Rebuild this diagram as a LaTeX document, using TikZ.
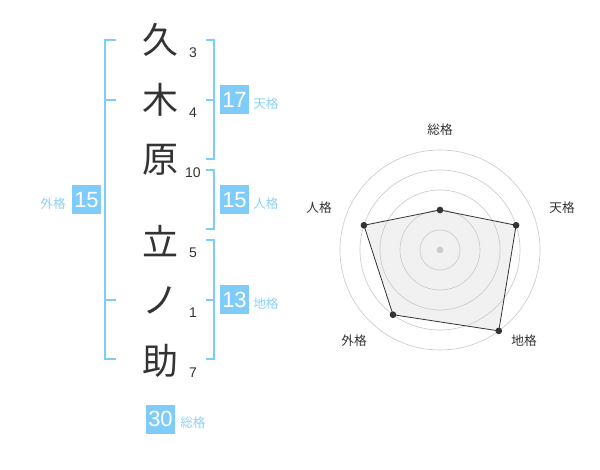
\documentclass[tikz,border=0pt]{standalone}
\usepackage{fontspec}
\usetikzlibrary{calc}
\setmainfont{Liberation Sans}
\newfontfamily\jpfont{Noto Sans CJK JP}
\definecolor{kakublue}{HTML}{80CCF8}
\definecolor{kakulabel}{HTML}{8DD0F5}
\definecolor{inkgray}{HTML}{333333}
\definecolor{ringgray}{HTML}{CCCCCC}
\definecolor{fillgray}{HTML}{F1F1F1}
\tikzset{
  kanji/.style={font=\jpfont\fontsize{27}{27}\selectfont,text=inkgray,inner sep=0pt},
  strokes/.style={font=\fontsize{10.5}{12}\selectfont,text=inkgray,inner sep=0pt},
  kakubox/.style={fill=kakublue,text=white,minimum size=21.75pt,inner sep=0pt,font=\fontsize{16.5}{16.5}\selectfont},
  kakuname/.style={font=\jpfont\fontsize{9.5}{9.5}\selectfont,text=kakulabel,inner sep=0pt},
  bracket/.style={draw=kakublue,line width=1.4pt},
  radarlabel/.style={font=\jpfont\fontsize{9.5}{9.5}\selectfont,text=inkgray,inner sep=0pt},
  ring/.style={draw=ringgray,line width=0.5pt},
  dot/.style={circle,fill=inkgray,inner sep=0pt,minimum size=5pt},
}

\begin{document}
\begin{tikzpicture}[x=0.75pt,y=-0.75pt]
                \useasboundingbox (0,0) rectangle (600,470);
                % name, one character per row
                \node[kanji] (c1) at (160,40)  {久};
                \node[kanji] (c2) at (160,100) {木};
                \node[kanji] (c3) at (160,160) {原};
                \node[kanji] (c4) at (160,241) {立};
                \node[kanji] (c5) at (160,300) {ノ};
                \node[kanji] (c6) at (160,361) {助};
                % stroke counts
                \node[strokes] (n1) at (193,53)  {3};
                \node[strokes] (n2) at (193,113) {4};
                \node[strokes] (n3) at (193,173) {10};
                \node[strokes] (n4) at (193,253) {5};
                \node[strokes] (n5) at (193,313) {1};
                \node[strokes] (n6) at (193,373) {7};
                % brackets
                \draw[bracket] (206,40)--(214.3,40)--(214.3,159.3)--(206,159.3);
                \draw[bracket] (206,100)--(214.3,100);
                \draw[bracket] (206,170)--(214.3,170)--(214.3,229.3)--(206,229.3);
                \draw[bracket] (206,240)--(214.3,240)--(214.3,359.3)--(206,359.3);
                \draw[bracket] (206,300)--(214.3,300);
                \draw[bracket] (116,40)--(105,40)--(105,359.3)--(116,359.3);
                \draw[bracket] (105,100)--(116,100);
                \draw[bracket] (105,300)--(116,300);
                % totals
                \node[kakubox] (ten) at (234.5,100) {17};
                \node[kakuname,anchor=west] (tenname) at (253,104) {天格};
                \node[kakubox] (jin) at (234.5,200) {15};
                \node[kakuname,anchor=west] (jinname) at (253,204) {人格};
                \node[kakubox] (chi) at (234.5,300) {13};
                \node[kakuname,anchor=west] (chiname) at (253,304) {地格};
                \node[kakubox] (gai) at (86.5,200) {15};
                \node[kakuname,anchor=east] (gainame) at (66,204) {外格};
                \node[kakubox] (sou) at (160.5,419) {30};
                \node[kakuname,anchor=west] (souname) at (180,423) {総格};
                % radar chart
                \coordinate (ctr) at (440,250);
                \coordinate (pSou) at ($(ctr)+(-90:40)$);
                \coordinate (pTen) at ($(ctr)+(-18:80)$);
                \coordinate (pChi) at ($(ctr)+(54:100)$);
                \coordinate (pGai) at ($(ctr)+(126:80)$);
                \coordinate (pJin) at ($(ctr)+(198:80)$);
                \fill[fillgray] (pSou)--(pTen)--(pChi)--(pGai)--(pJin)--cycle;
                \foreach \r in {20,40,...,100}
                    \draw[ring] (ctr) circle[radius=\r];
                \draw[inkgray,line width=0.6pt] (pSou)--(pTen)--(pChi)--(pGai)--(pJin)--cycle;
                \node[circle,fill=ringgray,inner sep=0pt,minimum size=5pt] (mid) at (ctr) {};
                \foreach \p in {pSou,pTen,pChi,pGai,pJin}
                    \node[dot] at (\p) {};
                \node[radarlabel] (lSou) at (440,130) {総格};
                \node[radarlabel] (lTen) at (562,208) {天格};
                \node[radarlabel] (lChi) at (524,341) {地格};
                \node[radarlabel] (lGai) at (354,341) {外格};
                \node[radarlabel] (lJin) at (319,208) {人格};
            \end{tikzpicture}
\end{document}
